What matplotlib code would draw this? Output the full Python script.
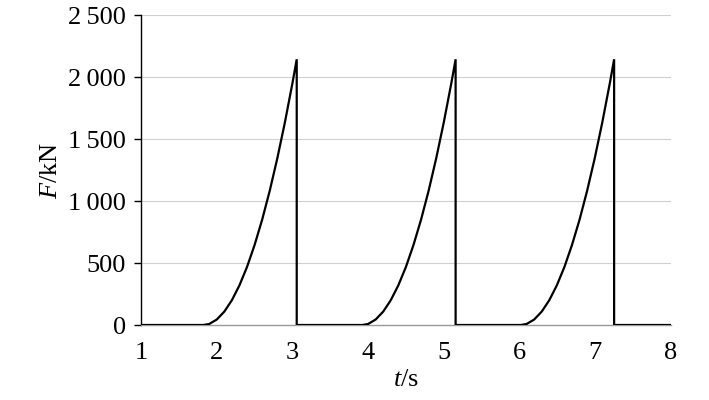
import matplotlib
matplotlib.use("Agg")
import matplotlib.pyplot as plt

# pulse rise profile (force values in kN)
force_rise = [0, 8, 44, 108, 200, 320, 468, 645, 849, 1082, 1343, 1632, 1949, 2143]

t_pulse1 = [1.823, 1.90, 2.00, 2.10, 2.20, 2.30, 2.40, 2.50, 2.60, 2.70, 2.80, 2.90, 3.00, 3.057]
t_pulse2 = [3.923, 4.00, 4.10, 4.20, 4.30, 4.40, 4.50, 4.60, 4.70, 4.80, 4.90, 5.00, 5.10, 5.157]
t_pulse3 = [6.018, 6.095, 6.195, 6.295, 6.395, 6.495, 6.595, 6.695, 6.795, 6.895, 6.995, 7.095, 7.195, 7.252]

t_start = 1.0
t_end = 8.0

x_ticks = [1, 2, 3, 4, 5, 6, 7, 8]
y_ticks = [0, 500, 1000, 1500, 2000, 2500]
y_tick_labels = ["0", "500", "1\u2009000", "1\u2009500", "2\u2009000", "2\u2009500"]

# assemble series
t = [t_start]
F = [0]
for tp in (t_pulse1, t_pulse2, t_pulse3):
    t += tp
    F += force_rise
    t.append(tp[-1])
    F.append(0)
t.append(t_end)
F.append(0)

plt.rcParams['font.family'] = ['Liberation Serif', 'DejaVu Serif']
plt.rcParams['mathtext.fontset'] = 'custom'
plt.rcParams['mathtext.it'] = 'Liberation Serif:italic'
plt.rcParams['mathtext.rm'] = 'Liberation Serif'

fig = plt.figure(figsize=(7.09, 4.0), dpi=100)
ax = fig.add_axes([0.199, 0.1875, 0.747, 0.775])

ax.plot(t, F, color='black', lw=1.6, zorder=3, solid_joinstyle='miter')

ax.set_xlim(1, 8)
ax.set_ylim(0, 2500)
ax.set_xticks(x_ticks)
ax.set_xticklabels([str(v) for v in x_ticks])
ax.set_yticks(y_ticks)
ax.set_yticklabels(y_tick_labels)

for y in y_ticks[1:]:
    ax.axhline(y, color='#d0d0d0', lw=0.8, zorder=1)

for s in ('top', 'right'):
    ax.spines[s].set_visible(False)
ax.spines['left'].set_color('black')
ax.spines['left'].set_linewidth(1.0)
ax.spines['bottom'].set_color('#999999')
ax.spines['bottom'].set_linewidth(1.0)

ax.tick_params(axis='y', direction='out', length=5, width=1.0, labelsize=19, pad=6)
ax.tick_params(axis='x', length=0, labelsize=19, pad=12)

ax.set_xlabel(r'$t$/s', fontsize=19, labelpad=4)
ax.set_ylabel(r'$F$/kN', fontsize=19, labelpad=4)

fig.savefig('out.png', dpi=100)
